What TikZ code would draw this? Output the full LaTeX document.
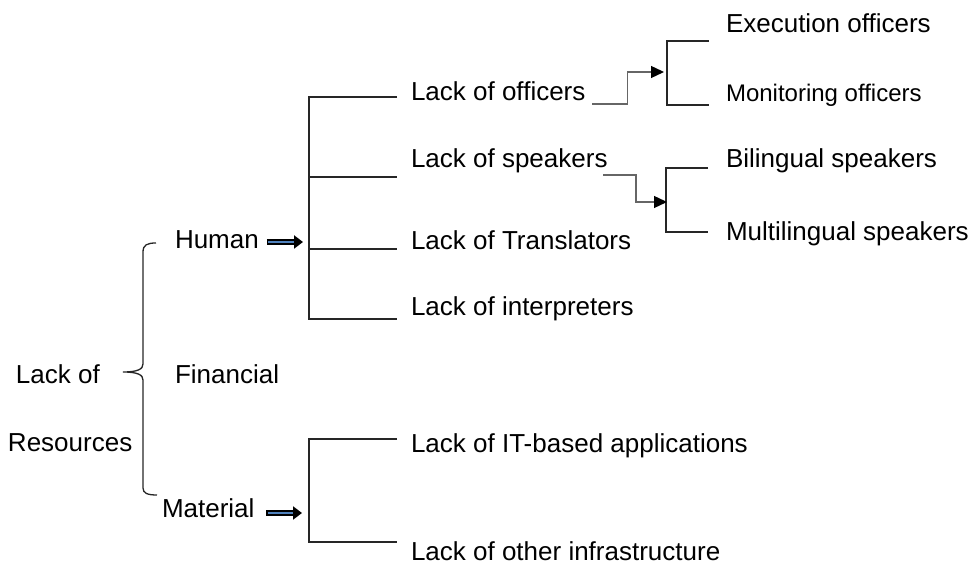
\documentclass[tikz,border=0pt]{standalone}
\usepackage{fontspec}
\setmainfont{Liberation Sans}
\usetikzlibrary{arrows.meta}
\definecolor{arrowblue}{HTML}{4F81BD}
\tikzstyle{txt} = [anchor=base west, inner sep=0pt, outer sep=0pt, font=\fontsize{13pt}{15pt}\selectfont]
\tikzstyle{smalltxt} = [txt, font=\fontsize{12pt}{14pt}\selectfont]
\tikzstyle{bracket} = [draw=black!85, line width=0.65pt]
\tikzstyle{elbow} = [draw=black!60, line width=0.65pt, -{Triangle[length=6.5pt,width=6pt,color=black]}]
\tikzstyle{fat} = [line width=2.8pt, -{Triangle[length=4.5pt,width=6.5pt]}]
\tikzstyle{fatin} = [draw=arrowblue, line width=1.3pt, shorten >=4.5pt, shorten <=0.75pt]

\begin{document}
\begin{tikzpicture}[x=0.5pt, y=-0.5pt]
\useasboundingbox (0,0) rectangle (973,565);

\node (lackof) [txt] at (16,384) {Lack of};
\node (res) [txt] at (8,452) {Resources};

\node (human) [txt] at (175,249) {Human};
\node (fin) [txt] at (175,384) {Financial};
\node (mat) [txt] at (162,518) {Material};

\node (offi) [txt] at (411,101) {Lack of officers};
\node (spk) [txt] at (411,168) {Lack of speakers};
\node (trans) [txt] at (411,250) {Lack of Translators};
\node (interp) [txt] at (411,316) {Lack of interpreters};
\node (itapp) [txt] at (411,453) {Lack of IT-based applications};
\node (infra) [txt] at (411,560) {Lack of other infrastructure};

\node (exec) [txt] at (726,33) {Execution officers};
\node (moni) [smalltxt] at (726,102) {Monitoring officers};
\node (bil) [txt] at (726,168) {Bilingual speakers};
\node (multi) [txt] at (726,241) {Multilingual speakers};

\coordinate (humtip) at (303,242);
\coordinate (mattip) at (302,513);
\coordinate (exectip) at (664,72);
\coordinate (biltip) at (667,202);

% brace
\draw [bracket] (156,243) .. controls (147,243) and (143,245) .. (143,252) -- (143,364)
  .. controls (143,369) and (138,372) .. (123,372)
  .. controls (138,372) and (143,375) .. (143,380) -- (143,488)
  .. controls (143,493) and (147,495) .. (157,495);

% brackets
\draw [bracket] (397,97) -- (309,97) -- (309,319) -- (397,319);
\draw [bracket] (309,177) -- (397,177);
\draw [bracket] (309,249) -- (397,249);
\draw [bracket] (397,439) -- (309,439) -- (309,542) -- (397,542);
\draw [bracket] (709,41) -- (667,41) -- (667,105) -- (709,105);
\draw [bracket] (708,168) -- (666,168) -- (666,232) -- (708,232);

\draw [fat] ([xshift=4pt]human.east |- humtip) -- (humtip);
\draw [fatin] ([xshift=4pt]human.east |- humtip) -- (humtip);
\draw [fat] ([xshift=6pt]mat.east |- mattip) -- (mattip);
\draw [fatin] ([xshift=6pt]mat.east |- mattip) -- (mattip);

\draw [elbow] ([xshift=3.5pt,yshift=-1.5pt]offi.base east) -- ++(35,0) |- (exectip);
\draw [elbow] ([xshift=-2.25pt,yshift=-3.5pt]spk.base east) -- ++(33,0) |- (biltip);

\end{tikzpicture}
\end{document}
